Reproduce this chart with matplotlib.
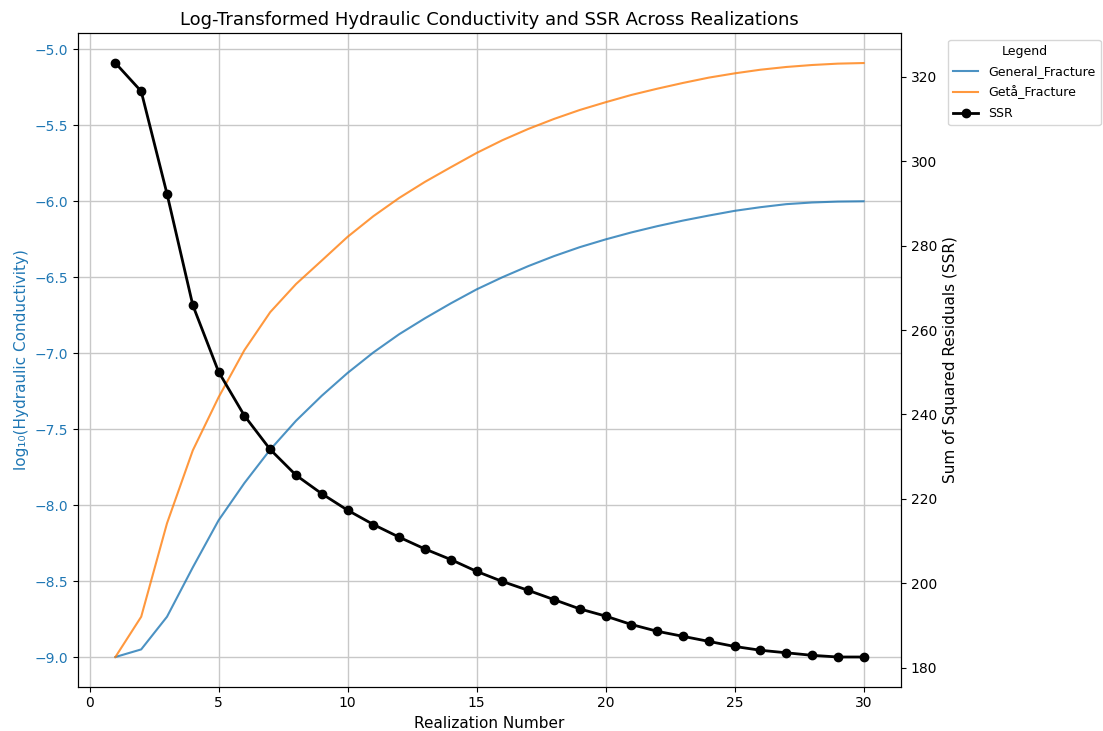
import matplotlib
matplotlib.use("Agg")
import matplotlib.pyplot as plt

# Données
realizations = list(range(1, 31))

general_fracture = [-9.0, -8.95, -8.735, -8.41, -8.10, -7.855, -7.635, -7.445, -7.28, -7.13,
                    -6.995, -6.875, -6.77, -6.672, -6.58, -6.50, -6.427, -6.361, -6.302, -6.251,
                    -6.205, -6.164, -6.127, -6.094, -6.063, -6.039, -6.019, -6.008, -6.002, -6.0]

geta_fracture = [-9.0, -8.735, -8.12, -7.64, -7.29, -6.98, -6.73, -6.545, -6.39, -6.234,
                 -6.098, -5.978, -5.872, -5.776, -5.682, -5.598, -5.524, -5.458, -5.399, -5.348,
                 -5.300, -5.259, -5.221, -5.186, -5.158, -5.134, -5.116, -5.103, -5.094, -5.090]

ssr = [323.3, 316.6, 292.3, 265.9, 250.1, 239.7, 231.7, 225.6, 221.2, 217.3,
       213.9, 210.9, 208.1, 205.6, 202.8, 200.4, 198.3, 196.1, 193.9, 192.2,
       190.2, 188.6, 187.4, 186.2, 185.0, 184.1, 183.5, 182.9, 182.5, 182.5]

fig = plt.figure(figsize=(11.03, 7.31), dpi=100)
ax1 = fig.add_axes([0.0707, 0.0606, 0.7462, 0.8938])

# Conductivités (axe gauche)
l1, = ax1.plot(realizations, general_fracture, color='tab:blue', alpha=0.8, linewidth=1.5,
               label='General_Fracture')
l2, = ax1.plot(realizations, geta_fracture, color='tab:orange', alpha=0.8, linewidth=1.5,
               label='Getå_Fracture')
ax1.set_xlabel('Realization Number', fontsize=11)
ax1.set_ylabel('log₁₀(Hydraulic Conductivity)', color='tab:blue', fontsize=11)
ax1.tick_params(axis='y', labelcolor='tab:blue')
ax1.grid(True, color='#c8c8c8', linewidth=1)

# SSR (axe droit)
ax2 = ax1.twinx()
l3, = ax2.plot(realizations, ssr, color='black', marker='o', linewidth=2, markersize=6,
               label='SSR')
ax2.set_ylabel('Sum of Squared Residuals (SSR)', color='black', fontsize=11)

ax1.set_title('Log-Transformed Hydraulic Conductivity and SSR Across Realizations', fontsize=13)

lines = [l1, l2, l3]
ax1.legend(lines, [l.get_label() for l in lines], title='Legend', loc='upper left',
           bbox_to_anchor=(1.05, 1), fontsize=9, title_fontsize=9, labelspacing=0.6)

plt.savefig('out.png', dpi=100)
plt.close(fig)
